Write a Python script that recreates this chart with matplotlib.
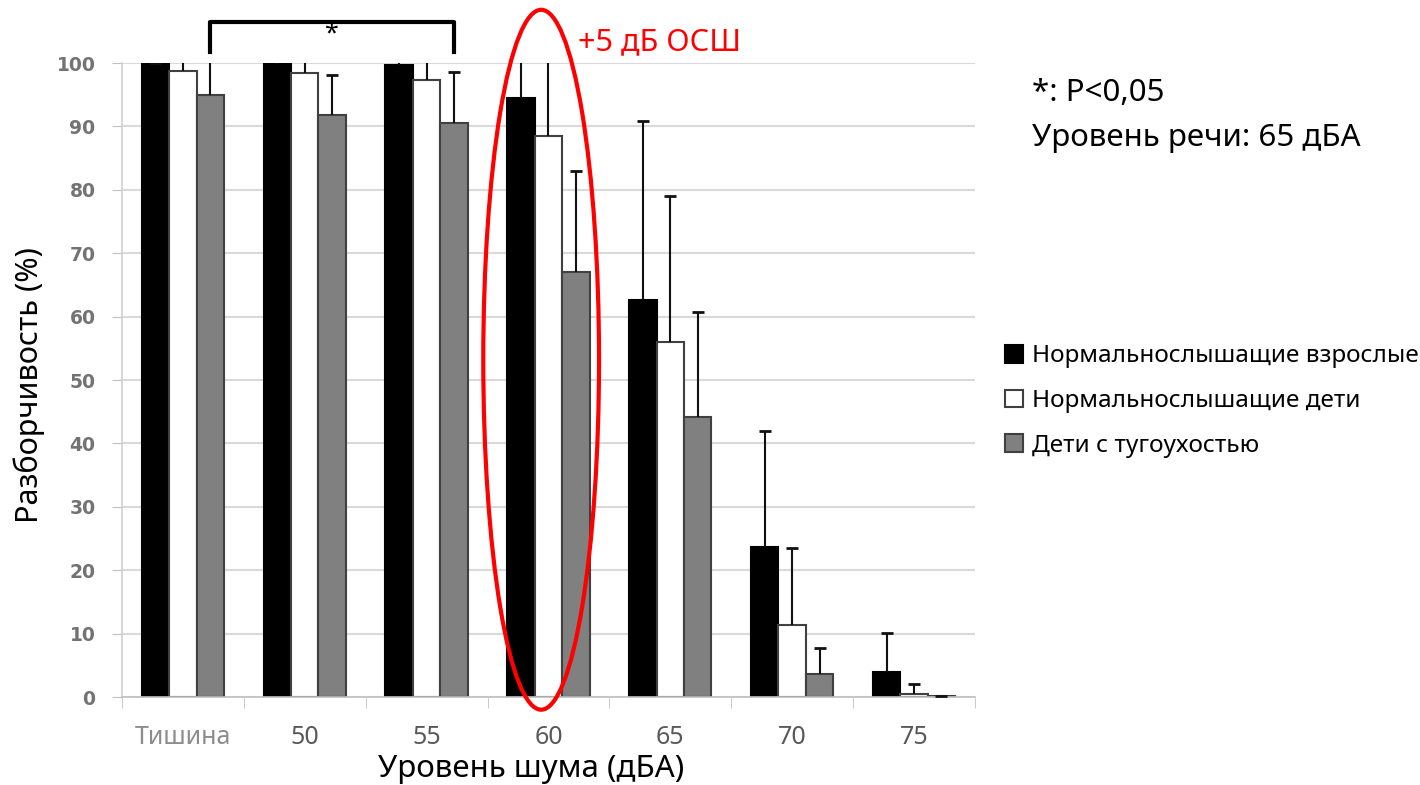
import numpy as np
import matplotlib.pyplot as plt
from matplotlib.patches import Ellipse

# ---------------------------------
# data
# ---------------------------------
categories = ["Тишина", "50", "55", "60", "65", "70", "75"]
series_names = [
    "Нормальнослышащие взрослые",
    "Нормальнослышащие дети",
    "Дети с тугоухостью",
]

adults = [100.0, 99.8, 99.7, 94.5, 62.6, 23.7, 3.9]
adults_err = [0.0, 1.0, 1.0, 8.0, 28.3, 18.3, 6.2]

children = [98.8, 98.5, 97.3, 88.5, 56.0, 11.4, 0.5]
children_err = [2.5, 2.5, 4.0, 13.0, 23.0, 12.1, 1.5]

hearing_loss = [95.0, 91.8, 90.5, 67.0, 44.2, 3.6, 0.1]
hearing_loss_err = [7.0, 6.3, 8.1, 16.0, 16.5, 4.1, 0.0]

plt.rcParams["font.family"] = ["Noto Sans", "DejaVu Sans"]

fig = plt.figure(figsize=(14.2, 7.85), dpi=100)
ax = fig.add_axes([0.0859, 0.1121, 0.6007, 0.8076])

x = np.arange(len(categories))
w = 0.225

series = [
    (adults, adults_err, "#000000", "#000000", -w),
    (children, children_err, "#ffffff", "#404040", 0.0),
    (hearing_loss, hearing_loss_err, "#808080", "#404040", w),
]

handles = []
for (vals, errs, fc, ec, off), name in zip(series, series_names):
    b = ax.bar(
        x + off, vals, w,
        color=fc, edgecolor=ec, linewidth=1.5,
        label=name, zorder=2
    )
    handles.append(b)
    eb = ax.errorbar(
        x + off, vals,
        yerr=[np.zeros(len(vals)), errs],
        fmt="none", ecolor="#111111", elinewidth=1.5,
        capsize=4, capthick=2, zorder=3
    )
    # only the upper caps are shown
    eb[1][0].set_visible(False)

ax.set_xlim(-0.5, len(categories) - 0.5)
ax.set_ylim(0, 100)
ax.set_yticks(np.arange(0, 101, 10))
ax.set_xticks(x)
ax.set_xticklabels(categories)
ax.set_xticks(np.arange(-0.5, len(categories), 1.0), minor=True)

ax.yaxis.grid(True, color="#d9d9d9", linewidth=1.5)
ax.set_axisbelow(True)

for s in ["top", "right"]:
    ax.spines[s].set_visible(False)
ax.spines["left"].set_color("#d0d0d0")
ax.spines["bottom"].set_color("#c0c0c0")
ax.spines["left"].set_linewidth(1.2)
ax.spines["bottom"].set_linewidth(1.2)

ax.tick_params(axis="y", length=7, color="#c0c0c0", pad=12,
               labelsize=13.5, labelcolor="#737373")
ax.tick_params(axis="x", which="major", length=0, pad=20,
               labelsize=18, labelcolor="#595959")
ax.tick_params(axis="x", which="minor", length=8, color="#c0c0c0")
for lab in ax.get_yticklabels():
    lab.set_family("DejaVu Sans")
    lab.set_fontweight("bold")
ax.get_xticklabels()[0].set_color("#8c8c8c")

ax.set_ylabel("Разборчивость (%)", fontsize=22)
ax.yaxis.set_label_coords(-0.09, 0.492)
ax.set_xlabel("Уровень шума (дБА)", fontsize=22.5)
ax.xaxis.set_label_coords(0.4795, -0.09)

# significance bracket over grey bars
bx0, bx1 = 0 + w, 2 + w
ax.plot([bx0, bx0, bx1, bx1], [101.7, 106.5, 106.5, 101.7],
        color="black", lw=3, clip_on=False, zorder=5)
ax.text((bx0 + bx1) / 2, 104.6, "*", ha="center", va="center",
        fontsize=18, clip_on=False)

# red ellipse around 60 dB group
ell = Ellipse((2.94, 53.2), 0.95, 110.4, fill=False,
              edgecolor="#ff0000", linewidth=3, clip_on=False, zorder=6)
ax.add_patch(ell)

fig.text(0.407, 0.9465, "+5 дБ ОСШ", color="#ff0000",
         fontsize=22, va="center", ha="left")

fig.text(0.7268, 0.8815, "*: P<0,05", fontsize=22.5, va="center")
fig.text(0.7268, 0.8242, "Уровень речи: 65 дБА", fontsize=22.5, va="center")

fig.legend(
    handles=handles, labels=series_names,
    loc="center left", bbox_to_anchor=(0.7077, 0.4892),
    frameon=False, fontsize=17.5,
    handlelength=0.75, handleheight=0.75, handletextpad=0.35,
    labelspacing=0.85, borderpad=0, borderaxespad=0
)

fig.savefig("out.png", dpi=100)
